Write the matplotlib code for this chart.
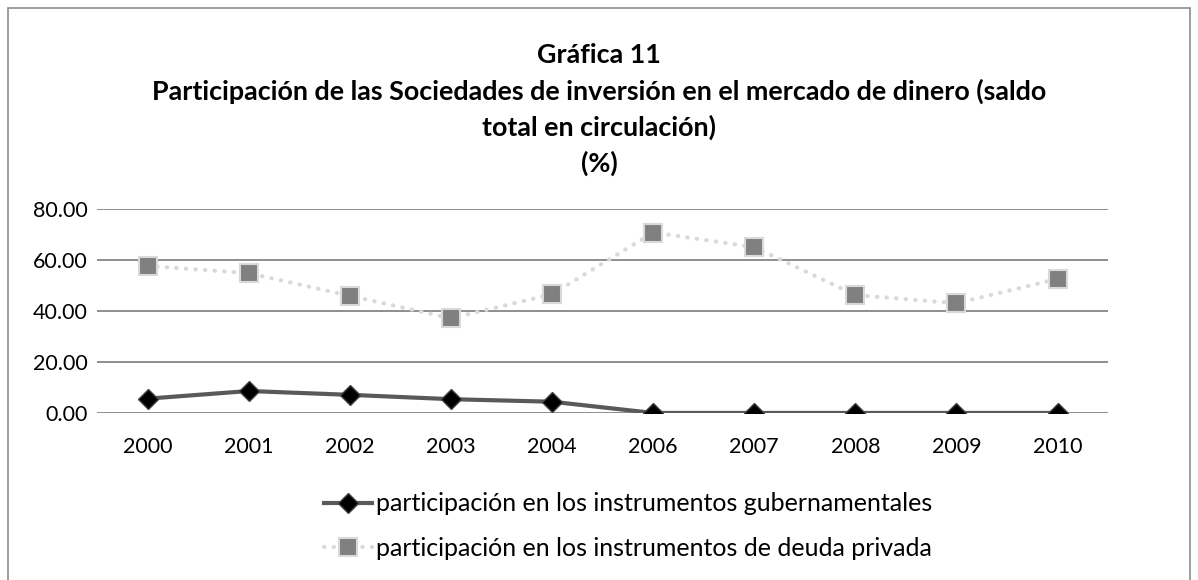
import matplotlib.pyplot as plt
import matplotlib.patches as mpatches

plt.rcParams['font.family'] = ['Lato', 'DejaVu Sans']

years = ['2000', '2001', '2002', '2003', '2004', '2006', '2007', '2008', '2009', '2010']
gubernamentales = [5.6, 8.6, 7.1, 5.4, 4.4, 0.0, 0.0, 0.0, 0.0, 0.0]
deuda_privada = [57.6, 54.8, 45.9, 37.1, 46.5, 70.7, 65.0, 46.2, 43.0, 52.5]
y_ticks = [0, 20, 40, 60, 80]

title_lines = ['Gráfica 11',
               'Participación de las Sociedades de inversión en el mercado de dinero (saldo',
               'total en circulación)',
               '(%)']
label_gub = 'participación en los instrumentos gubernamentales'
label_priv = 'participación en los instrumentos de deuda privada'

fig = plt.figure(figsize=(11.98, 5.8), dpi=100)
ax = fig.add_axes([0.081, 0.288, 0.844, 0.352])

x = range(len(years))
ax.plot(x, gubernamentales, color='#595959', lw=3, marker='D', ms=10,
        mfc='black', mec='#404040', mew=1, label=label_gub, zorder=4)
ax.plot(x, deuda_privada, color='#D9D9D9', lw=3, ls=(0, (0.1, 2.2)),
        dash_capstyle='round', marker='s', ms=12.5, mfc='#808080', mec='#D9D9D9',
        mew=1.5, label=label_priv, zorder=3)

ax.set_xlim(-0.5, len(years) - 0.5)
ax.set_ylim(0, 80)
ax.set_yticks(y_ticks)
ax.set_yticklabels([f'{v:.2f}' for v in y_ticks], fontsize=15.5)
ax.set_xticks(list(x))
ax.set_xticklabels(years, fontsize=15.5)
ax.tick_params(axis='y', length=0, pad=7)
ax.tick_params(axis='x', length=0, pad=17)
ax.grid(axis='y', color='#868686', lw=1.3)
ax.set_axisbelow(True)
for s in ax.spines.values():
    s.set_visible(False)

# title, one line at a time
for line, yy in zip(title_lines, [0.905, 0.843, 0.781, 0.719]):
    fig.text(0.5, yy, line, ha='center', va='center', fontsize=19.4, fontweight='bold')

fig.legend(loc='center left', bbox_to_anchor=(0.252, 0.093), frameon=False,
           fontsize=18, handlelength=1.9, handletextpad=0.15, labelspacing=0.85)

fig.patches.append(mpatches.Rectangle((0.007, -0.05), 0.986, 1.036, transform=fig.transFigure,
                                      fill=False, edgecolor='#8C8C8C', lw=1.2))

fig.savefig('out.png', dpi=100)
